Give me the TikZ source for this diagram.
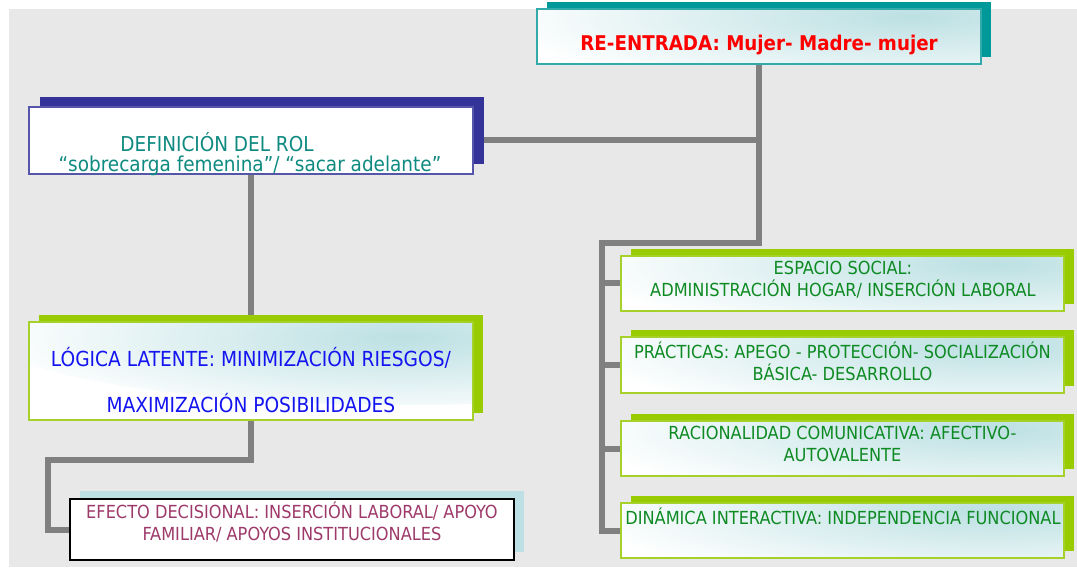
\documentclass[tikz,border=0pt]{standalone}
\usepackage{fontspec}
\setmainfont{DejaVu Sans Condensed}
\usepackage{tikz}
\usetikzlibrary{shadows}
\usetikzlibrary{backgrounds}
\definecolor{panelGray}{HTML}{E8E8E8}
\definecolor{linkGray}{HTML}{808080}
\definecolor{tealShadow}{HTML}{009999}
\definecolor{tealBorder}{HTML}{33AAAA}
\definecolor{tealText}{HTML}{0E8A80}
\definecolor{navyShadow}{HTML}{333399}
\definecolor{navyBorder}{HTML}{5555AA}
\definecolor{limeShadow}{HTML}{99CC00}
\definecolor{limeBorder}{HTML}{A6D12A}
\definecolor{paleTeal}{HTML}{BCE0E3}
\definecolor{redText}{HTML}{FF0000}
\definecolor{blueText}{HTML}{1414F0}
\definecolor{plumText}{HTML}{9E3A6A}
\definecolor{greenText}{HTML}{0E8A23}

\begin{document}
\begin{tikzpicture}[x=1pt,y=1pt]

            \tikzstyle{box} = [rectangle, minimum width=444pt, inner sep=0pt, line width=2pt];
            \tikzstyle{tintBox} = [box, fill=white, path picture={
                \shade[inner color=paleTeal, outer color=white] ([xshift=-70pt,yshift=-8pt]path picture bounding box.north east) ellipse [x radius=420pt, y radius=75pt];}];
            \tikzstyle{limeBox} = [tintBox, draw=limeBorder, general shadow={fill=limeShadow, shadow xshift=10pt, shadow yshift=7pt}];
            \tikzstyle{link} = [line width=6pt, linkGray];
            \tikzstyle{greenLabel} = [align=center, text=greenText, font=\fontsize{18}{21.5}\selectfont];

            \useasboundingbox (0,0) rectangle (1077,571);
            \begin{pgfonlayer}{background}
            \fill[panelGray] (9,4) rectangle (1077,562);
            \end{pgfonlayer}

            \node[tintBox, draw=tealBorder, minimum height=55pt, general shadow={fill=tealShadow, shadow xshift=10pt, shadow yshift=7pt}] (reentry) at (759,534.5) {};
            \node[text=redText, font=\fontsize{20.3}{24}\selectfont\bfseries] (reentryText) at (759,526) {RE-ENTRADA: Mujer- Madre- mujer};

            \node[box, fill=white, draw=navyBorder, minimum height=67pt, general shadow={fill=navyShadow, shadow xshift=11pt, shadow yshift=10pt}] (role) at (251,430.5) {};
            \node[text=tealText, font=\fontsize{20.5}{24}\selectfont] (roleTitle) at (217,429) {DEFINICIÓN DEL ROL};
            \node[text=tealText, font=\fontsize{20.5}{24}\selectfont] (roleQuote) at (250,405) {“sobrecarga femenina”/ “sacar adelante”};

            \node[limeBox, minimum height=98pt] (logic) at (251,200) {};
            \node[align=center, text=blueText, font=\fontsize{20.7}{46}\selectfont] (logicText) at (251,191) {LÓGICA LATENTE: MINIMIZACIÓN RIESGOS/\\MAXIMIZACIÓN POSIBILIDADES};

            \node[box, fill=white, draw=black, minimum height=61pt, general shadow={fill=paleTeal, shadow xshift=10pt, shadow yshift=8pt}] (effect) at (292,41.5) {};
            \node[align=center, text=plumText, font=\fontsize{18}{22}\selectfont] (effectText) at (292,49) {EFECTO DECISIONAL: INSERCIÓN LABORAL/ APOYO\\FAMILIAR/ APOYOS INSTITUCIONALES};

            \node[limeBox, minimum width=443pt, minimum height=55pt] (space) at (842.5,287.5) {};
            \node[greenLabel] (spaceText) at (843,291.5) {ESPACIO SOCIAL:\\ADMINISTRACIÓN HOGAR/ INSERCIÓN LABORAL};

            \node[limeBox, minimum width=443pt, minimum height=56pt] (practice) at (842.5,206) {};
            \node[greenLabel] (practiceText) at (842.5,209.5) {PRÁCTICAS: APEGO - PROTECCIÓN- SOCIALIZACIÓN\\BÁSICA- DESARROLLO};

            \node[limeBox, minimum width=443pt, minimum height=55pt] (reason) at (842.5,122.5) {};
            \node[greenLabel] (reasonText) at (842.5,127) {RACIONALIDAD COMUNICATIVA: AFECTIVO-\\AUTOVALENTE};

            \node[limeBox, minimum width=443pt, minimum height=55pt] (dynamic) at (842.5,40.5) {};
            \node[greenLabel] (dynamicText) at (843,55) {DINÁMICA INTERACTIVA: INDEPENDENCIA FUNCIONAL};

            \coordinate (rightJoin) at (602,328);
            \coordinate (leftJoin) at (48,111);

            \begin{pgfonlayer}{background}
            \draw[link] (reentry.south) |- (rightJoin) |- (dynamic.west);
            \draw[link] (role.east) -- (role.east -| reentry.south);
            \draw[link] (rightJoin |- space.west) -- (space.west);
            \draw[link] (rightJoin |- practice.west) -- (practice.west);
            \draw[link] (rightJoin |- reason.west) -- (reason.west);

            \draw[link] (role.south) -- (logic.north);
            \draw[link] (logic.south) |- (leftJoin) |- (effect.west);
            \end{pgfonlayer}
          \end{tikzpicture}
\end{document}
